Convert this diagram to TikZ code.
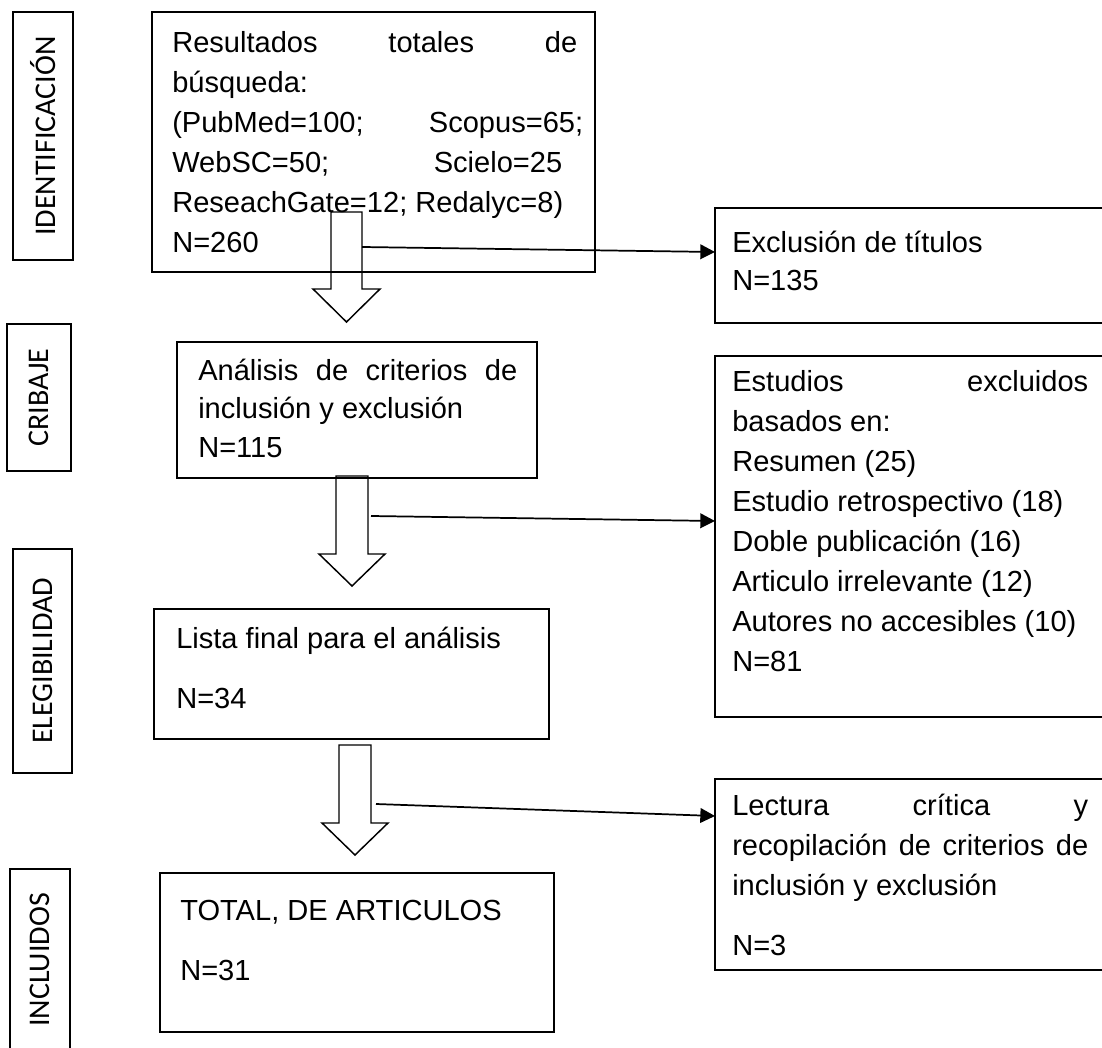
\documentclass[tikz,border=0pt]{standalone}
\usepackage{fontspec}
\setmainfont{Liberation Sans}
\newfontfamily\labelfont{Carlito}
\usetikzlibrary{arrows.meta,fit}
\begin{document}
\begin{tikzpicture}[x=0.75pt,y=-0.75pt,
  frame/.style={draw, line width=1.1pt, rectangle, inner sep=0pt},
  txt/.style={inner sep=0pt, anchor=base west, font=\fontsize{21.8}{30}\selectfont},
  stagetxt/.style={inner sep=0pt, rotate=90, font=\labelfont\fontsize{22.5}{26}\selectfont},
  blockarrow/.style={draw, line width=1.1pt, line join=miter},
  thinarrow/.style={draw, line width=1.3pt, -{Triangle[length=11pt,width=11pt]}}]
\clip (0,0) rectangle (1102,1048);
% stage labels
\node[frame, fit={(13,12) (73,260)}] (sid) {};
\node[stagetxt] (lid) at (sid.center) {IDENTIFICACIÓN};
\node[frame, fit={(7,324) (71,471)}] (scr) {};
\node[stagetxt] (lcr) at (scr.center) {CRIBAJE};
\node[frame, fit={(13,549) (72,773)}] (sel) {};
\node[stagetxt] (lel) at (sel.center) {ELEGIBILIDAD};
\node[frame, fit={(10,869) (70,1051)}] (sin) {};
\node[stagetxt] (lin) at (sin.center) {INCLUIDOS};
% main boxes
\node[frame, fit={(152,12) (595,272)}] (b1) {};
\node[txt] (t1) at (172,53) {\parbox[t]{330pt}{%
\makebox[303.75pt][l]{Resultados\hfill totales\hfill de}\\
búsqueda:\\
\makebox[308.25pt][l]{(PubMed=100;\hfill Scopus=65;}\\
\makebox[292.5pt][l]{WebSC=50;\hfill Scielo=25}\\
ReseachGate=12; Redalyc=8)\\
N=260}};
\node[frame, fit={(177,342) (537,478)}] (b2) {};
\node[txt, font=\fontsize{21.8}{28.9}\selectfont] (t2) at (198,380) {\parbox[t]{260pt}{%
\makebox[239.25pt][l]{Análisis\hfill de\hfill criterios\hfill de}\\
inclusión y exclusión\\
N=115}};
\node[frame, fit={(154,609) (549,739)}] (b3) {};
\node[txt] (t3) at (176,648) {\parbox[t]{290pt}{%
Lista final para el análisis\\[15pt]
N=34}};
\node[frame, fit={(160,873) (554,1032)}] (b4) {};
\node[txt] (t4) at (180,920) {\parbox[t]{290pt}{%
TOTAL, DE ARTICULOS\\[15pt]
N=31}};
% right boxes
\node[frame, fit={(715,208) (1110,323)}] (r1) {};
\node[txt, font=\fontsize{21.8}{28}\selectfont] (u1) at (732,253) {\parbox[t]{290pt}{%
Exclusión de títulos\\
N=135}};
\node[frame, fit={(715,356) (1110,717)}] (r2) {};
\node[txt] (u2) at (732,391) {\parbox[t]{290pt}{%
\makebox[267pt][l]{Estudios\hfill excluidos}\\
basados en:\\
Resumen (25)\\
Estudio retrospectivo (18)\\
Doble publicación (16)\\
Articulo irrelevante (12)\\
Autores no accesibles (10)\\
N=81}};
\node[frame, fit={(715,779) (1110,970)}] (r3) {};
\node[txt] (u3) at (732,815) {\parbox[t]{290pt}{%
\makebox[267pt][l]{Lectura\hfill crítica\hfill y}\\
\makebox[267pt][l]{recopilación\hfill de\hfill criterios\hfill de}\\
inclusión y exclusión\\[15pt]
N=3}};
% block arrows
\draw[blockarrow] (331,212) -- (362,212) -- (362,289) -- (380,289) -- (346.5,322) -- (313,289) -- (331,289) -- cycle;
\draw[blockarrow] (336,476) -- (368,476) -- (368,554) -- (385,554) -- (352,586) -- (319,554) -- (336,554) -- cycle;
\draw[blockarrow] (339,745) -- (371,745) -- (371,823) -- (388,823) -- (355,855) -- (322,823) -- (339,823) -- cycle;
% thin arrows
\coordinate (s1) at (362,247);
\coordinate (e1) at (715,252);
\coordinate (s2) at (371,516);
\coordinate (e2) at (715,521);
\coordinate (s3) at (376,804);
\coordinate (e3) at (715,816);
\draw[thinarrow] (s1) -- (e1);
\draw[thinarrow] (s2) -- (e2);
\draw[thinarrow] (s3) -- (e3);
\end{tikzpicture}
\end{document}
